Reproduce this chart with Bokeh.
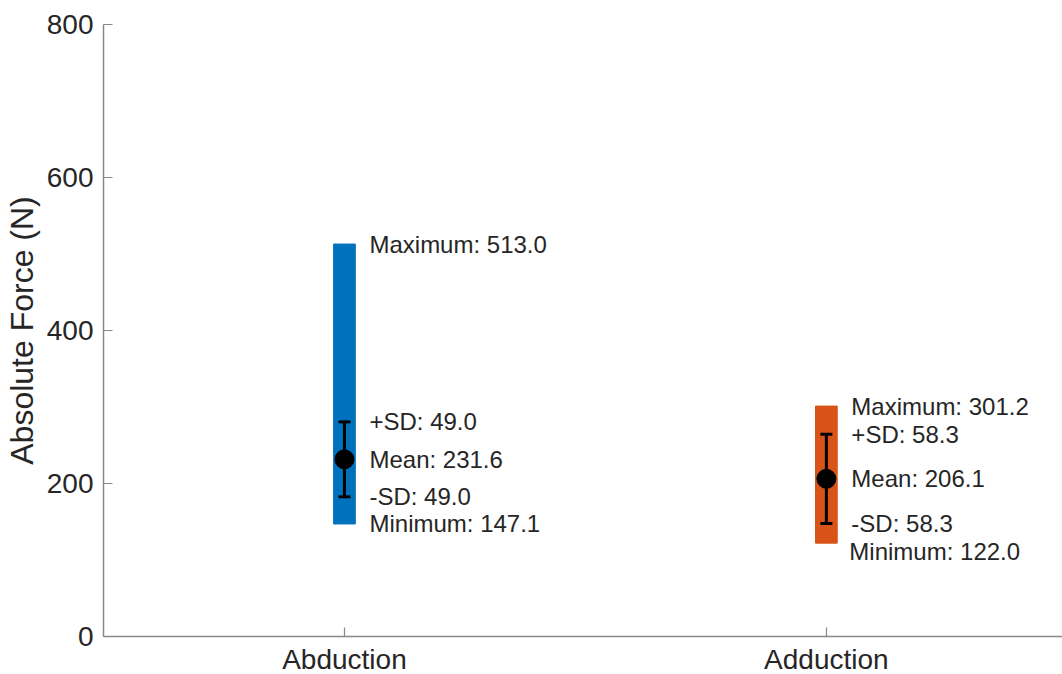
from bokeh.plotting import figure
from bokeh.models import FixedTicker, ColumnDataSource
from bokeh.core.properties import value
from bokeh.embed import file_html
from bokeh.resources import INLINE

# Summary statistics of absolute force (N) per movement
categories = ["Abduction", "Adduction"]
maximum = [513.0, 301.2]
minimum = [147.1, 122.0]
mean = [231.6, 206.1]
sd = [49.0, 58.3]
colors = ["#0072BD", "#D95319"]
y_ticks = [0, 200, 400, 600, 800]

xs = [i + 1 for i in range(len(categories))]
upper = [m + s for m, s in zip(mean, sd)]
lower = [m - s for m, s in zip(mean, sd)]

FONT = "Liberation Sans"
TEXT = "#262626"

p = figure(
    frame_width=959, frame_height=612,
    x_range=(0.5, 2.49), y_range=(0, 800),
    output_backend="svg", toolbar_location=None,
    min_border_left=103, min_border_top=24, min_border_bottom=38, min_border_right=0,
)
p.outline_line_color = None
p.grid.visible = False
p.background_fill_color = "white"
p.border_fill_color = "white"

# range bars (min to max)
bars = ColumnDataSource(dict(x=xs, top=maximum, bottom=minimum, color=colors))
p.vbar(x="x", top="top", bottom="bottom", width=0.045, fill_color="color",
       line_color="color", source=bars)

# mean +/- SD error bars
stats = ColumnDataSource(dict(x=xs, mean=mean, upper=upper, lower=lower))
p.segment(x0="x", y0="lower", x1="x", y1="upper", line_color="black",
          line_width=3, source=stats)
p.scatter(x="x", y="upper", marker="dash", size=12, line_width=3,
          line_color="black", source=stats)
p.scatter(x="x", y="lower", marker="dash", size=12, line_width=3,
          line_color="black", source=stats)
p.scatter(x="x", y="mean", marker="circle", size=19, fill_color="black",
          line_color="black", source=stats)

# annotations next to each bar
for i, x in enumerate(xs):
    entries = [
        (maximum[i], f"Maximum: {maximum[i]:.1f}", 0),
        (upper[i], f"+SD: {sd[i]:.1f}", 0),
        (mean[i], f"Mean: {mean[i]:.1f}", 0),
        (lower[i], f"-SD: {sd[i]:.1f}", 0),
        (minimum[i], f"Minimum: {minimum[i]:.1f}", 8 if i == 1 else 0),
    ]
    for yv, label, dy in entries:
        p.text(x=[x], y=[yv], text=[label], x_offset=25 if not (i == 1 and dy) else 23,
               y_offset=dy, text_font=value(FONT), text_font_size="24px",
               text_color=TEXT, text_baseline="middle", text_align="left")

# axes
for ax in (p.xaxis[0], p.yaxis[0]):
    ax.axis_line_color = "#888888"
    ax.axis_line_width = 1.5
    ax.major_tick_line_color = "#888888"
    ax.major_tick_line_width = 1.2
    ax.major_tick_in = 9
    ax.major_tick_out = 0
    ax.minor_tick_line_color = None
    ax.major_label_text_font = FONT
    ax.major_label_text_color = TEXT

p.xaxis.ticker = FixedTicker(ticks=xs)
p.xaxis.major_label_overrides = {x: c for x, c in zip(xs, categories)}
p.xaxis.major_label_text_font_size = "28px"
p.xaxis.major_label_standoff = 7

p.yaxis.ticker = FixedTicker(ticks=y_ticks)
p.yaxis.major_label_text_font_size = "28px"
p.yaxis.major_label_standoff = 10
p.yaxis.axis_label = "Absolute Force (N)"
p.yaxis.axis_label_text_font = FONT
p.yaxis.axis_label_text_font_style = "normal"
p.yaxis.axis_label_text_font_size = "32px"
p.yaxis.axis_label_text_color = TEXT
p.yaxis.axis_label_standoff = 4

open("out.html", "w").write(file_html(p, INLINE))
